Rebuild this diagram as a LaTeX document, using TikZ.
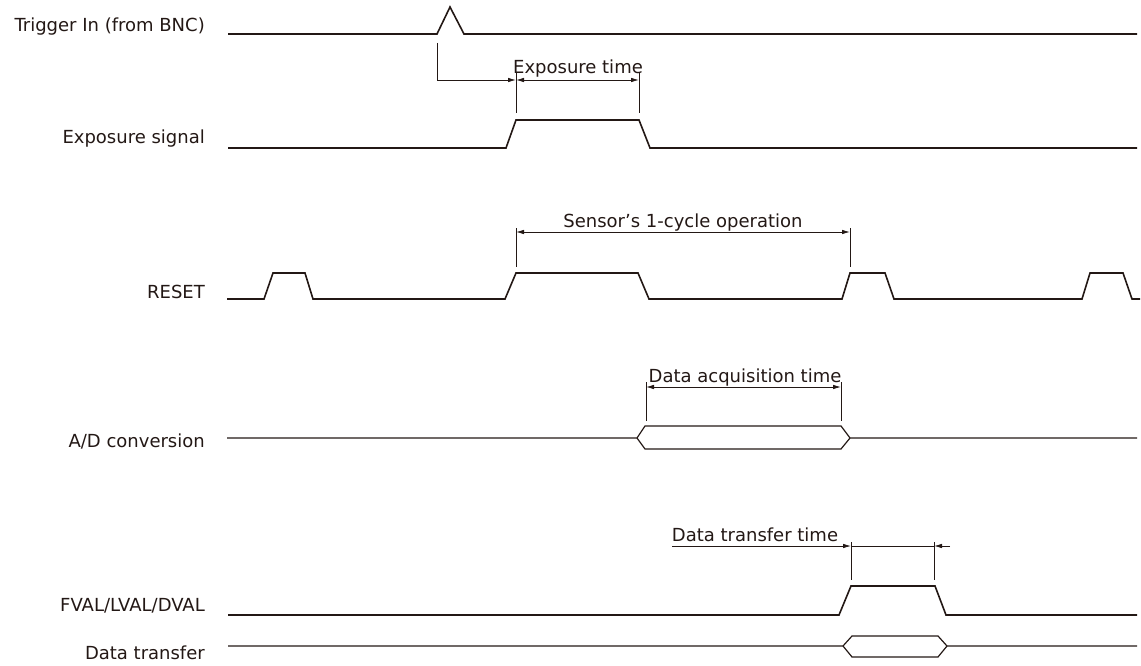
\documentclass[tikz,border=0pt]{standalone}
\usepackage{fontspec}
\setmainfont{DejaVu Sans}
\usetikzlibrary{arrows.meta}
\definecolor{ink}{RGB}{35,24,21}
\begin{document}
\begin{tikzpicture}[x=1pt,y=-1pt,
  sig/.style={draw=ink,line width=1.6pt,line join=miter},
  bus/.style={draw=ink,line width=1.2pt,line join=miter},
  dim/.style={draw=ink,line width=0.8pt},
  arr/.style={dim,-{Latex[length=8pt,width=4.5pt]}},
  arrboth/.style={dim,{Latex[length=8pt,width=4.5pt]}-{Latex[length=8pt,width=4.5pt]}},
  lbl/.style={font=\fontsize{18}{18}\selectfont,text=ink,inner sep=0pt,anchor=base east},
  dlbl/.style={font=\fontsize{18}{18}\selectfont,text=ink,inner sep=0pt,anchor=base}]
\useasboundingbox (0,0) rectangle (1141,666);

% signal labels
\node[lbl] (lTrig) at (205,32) {Trigger In (from BNC)};
\node[lbl] (lExp) at (205,144) {Exposure signal};
\node[lbl] (lReset) at (205,298) {RESET};
\node[lbl] (lAD) at (205,447) {A/D conversion};
\node[lbl] (lFval) at (205,611) {FVAL/LVAL/DVAL};
\node[lbl] (lData) at (205,659) {Data transfer};

% Trigger In
\draw[sig] (228,34) -- (437,34) -- (450,7) -- (464,34) -- (1137,34);

% Exposure signal
\draw[sig] (228,148) -- (506,148) -- (516,120) -- (639,120) -- (650,148) -- (1137,148);

% RESET
\draw[sig] (227,299) -- (264,299) -- (273,273) -- (305,273) -- (313,299)
  -- (505,299) -- (516,273) -- (638,273) -- (649,299)
  -- (842,299) -- (850,273) -- (885,273) -- (894,299)
  -- (1082,299) -- (1090,273) -- (1123,273) -- (1132,299) -- (1140,299);

% A/D conversion
\draw[bus] (227,438) -- (637,438) -- (645,426) -- (841,426) -- (850,438) -- (1137,438);
\draw[bus] (637,438) -- (645,449) -- (841,449) -- (850,438);

% FVAL/LVAL/DVAL
\draw[sig] (228,615) -- (839,615) -- (851,586) -- (935,586) -- (946,615) -- (1137,615);

% Data transfer
\draw[bus] (228,646) -- (843,646) -- (852,636) -- (938,636) -- (947,646) -- (1137,646);
\draw[bus] (843,646) -- (852,657) -- (938,657) -- (947,646);

% Exposure time dimension
\coordinate (tA) at (437,43);
\coordinate (tB) at (437,80);
\coordinate (eL) at (516,80);
\coordinate (eR) at (639,80);
\draw[dim] (tA) -- (tB);
\draw[arr] (tB) -- (eL);
\draw[dim] (516,72) -- (516,113);
\draw[dim] (639,72) -- (639,113);
\draw[arrboth] (eL) -- (eR);
\node[dlbl] (tExp) at (578,74) {Exposure time};

% Sensor's 1-cycle operation
\coordinate (sL) at (516,232);
\coordinate (sR) at (850,232);
\draw[dim] (516,228) -- (516,267);
\draw[dim] (850,228) -- (850,267);
\draw[arrboth] (sL) -- (sR);
\node[dlbl] (tSens) at (683,227) {Sensor’s 1-cycle operation};

% Data acquisition time
\coordinate (aL) at (646,387);
\coordinate (aR) at (841,387);
\draw[dim] (646,382) -- (646,421);
\draw[dim] (841,382) -- (841,421);
\draw[arrboth] (aL) -- (aR);
\node[dlbl] (tAcq) at (745,382) {Data acquisition time};

% Data transfer time
\coordinate (dS) at (672,546);
\coordinate (dL) at (851,546);
\coordinate (dR) at (934,546);
\coordinate (dE) at (950,546);
\draw[dim] (851,542) -- (851,580);
\draw[dim] (934,542) -- (934,580);
\draw[arr] (dS) -- (dL);
\draw[dim] (dL) -- (dR);
\draw[arr] (dE) -- (dR);
\node[dlbl] (tTr) at (755,541) {Data transfer time};
\end{tikzpicture}
\end{document}
